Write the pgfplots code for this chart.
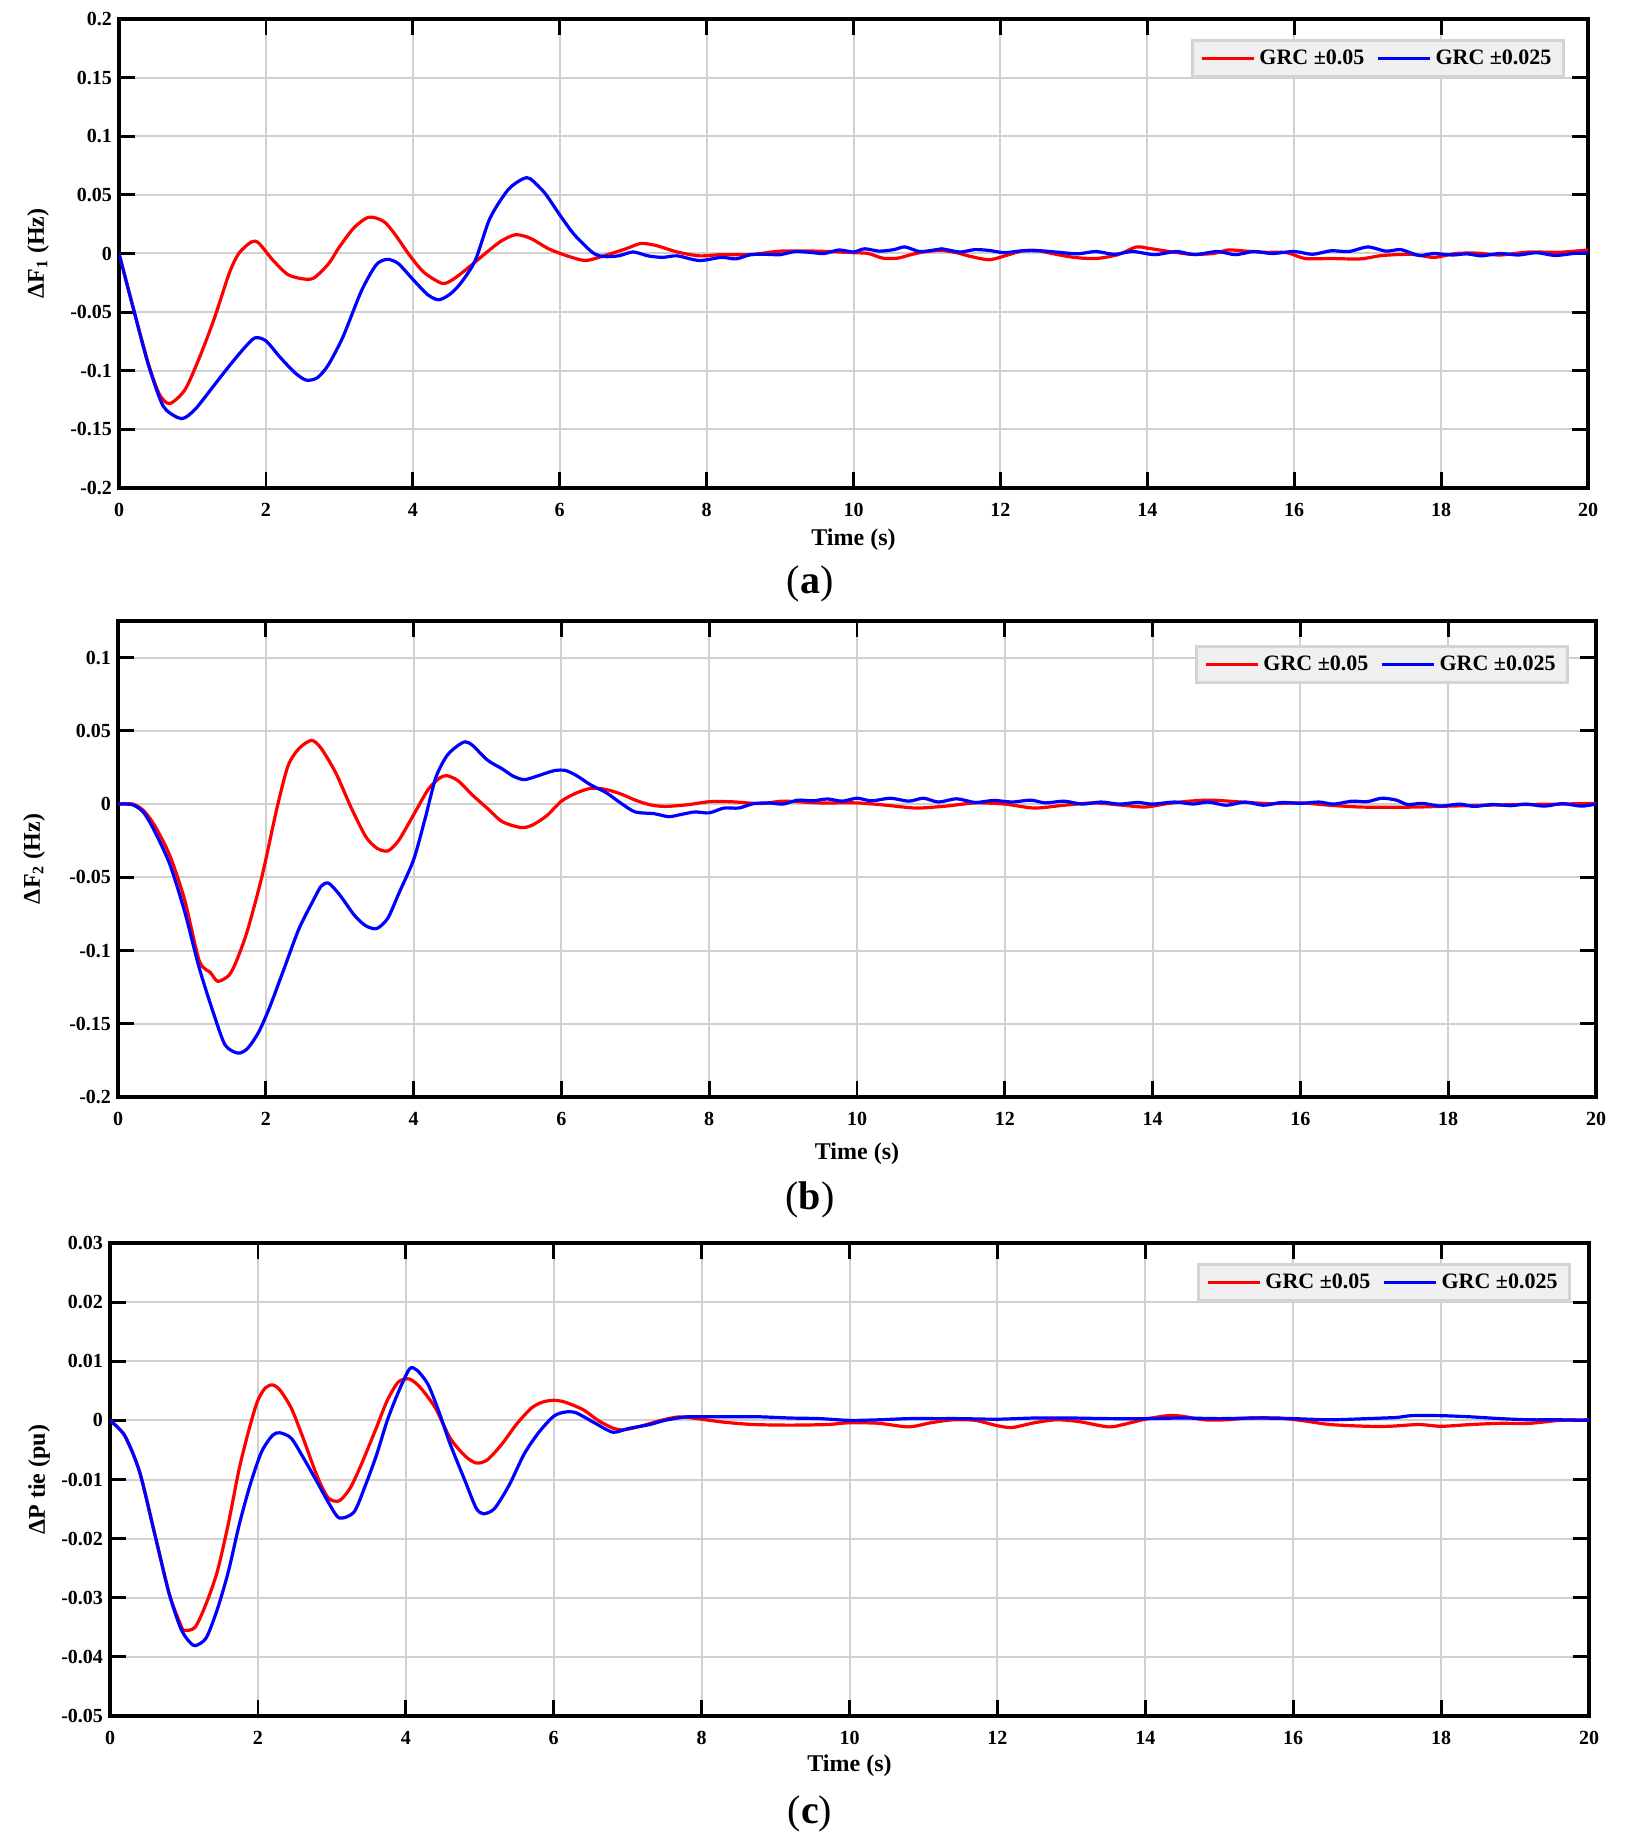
\documentclass[border=0pt]{standalone}
\usepackage{fontspec}
\setmainfont{Liberation Serif}
\usepackage{pgfplots}
\pgfplotsset{compat=1.18}
\definecolor{legfill}{RGB}{240,240,240}
\definecolor{legdraw}{RGB}{212,212,212}
\definecolor{gridc}{RGB}{208,208,208}
\pgfplotsset{
 mystyle/.style={
  scale only axis,
  xmin=0,xmax=20, xtick={0,2,...,20},
  tick align=inside, tick pos=both,
  major tick length=8pt,
  every tick/.style={black, line width=1.4pt},
  axis line style={line width=1.8pt},
  grid=major, grid style={gridc, line width=1pt},
  scaled ticks=false,
  /pgf/number format/assume math mode=true,
  /pgf/number format/fixed, /pgf/number format/precision=3,
  tick label style={font=\bfseries\fontsize{10}{12}\selectfont},
  xticklabel style={yshift=-4pt},
  label style={font=\bfseries\fontsize{12}{14}\selectfont},
  xlabel={Time (s)},
  xlabel style={at={(axis description cs:0.5,0)}, anchor=center},
  ylabel style={at={(axis description cs:0,0.5)}, anchor=center},
  legend columns=2,
  legend style={fill=legfill, draw=legdraw, line width=1.5pt, anchor=north east,
    font=\bfseries\fontsize{11}{13}\selectfont, inner xsep=4pt, inner ysep=2.5pt,
    /tikz/every even column/.append style={column sep=4pt}},
  legend image code/.code={\draw[#1] (0pt,0pt) -- (26pt,0pt);},
  every axis plot/.append style={line width=1.6pt, smooth, tension=0.45},
 }
}
\newcommand{\subcap}[1]{\fontsize{20}{22}\selectfont(\textbf{#1})}
\begin{document}
\begin{tikzpicture}
\path[use as bounding box] (0,0) rectangle (812.5pt,-922.5pt);
% ---------------- (a)
\begin{axis}[mystyle, at={(59.5pt,-9.5pt)}, anchor=north west, width=734.5pt, height=234.5pt,
  ymin=-0.2, ymax=0.2, ytick={-0.2,-0.15,-0.1,-0.05,0,0.05,0.1,0.15,0.2},
  ylabel={ΔF\textsubscript{1} (Hz)},
  xlabel style={yshift=-26pt}, ylabel style={yshift=40.5pt},
  legend style={at={(1,1)}, xshift=-11.5pt, yshift=-10pt}]
\addplot[red] coordinates {(0,0)(0.2,-0.048)(0.4,-0.094)(0.55,-0.12)(0.69,-0.128)(0.9,-0.116)(1.1,-0.088)(1.3,-0.055)(1.5,-0.017)(1.63,0)(1.8,0.0098)(1.9,0.009)(2.1,-0.006)(2.3,-0.018)(2.5,-0.0216)(2.65,-0.021)(2.85,-0.009)(3.0,0.0055)(3.2,0.022)(3.4,0.031)(3.6,0.0275)(3.75,0.017)(3.95,-0.001)(4.15,-0.016)(4.4,-0.0255)(4.55,-0.022)(4.75,-0.0124)(5.0,0.0007)(5.2,0.0105)(5.4,0.016)(5.6,0.013)(5.85,0.004)(6.1,-0.002)(6.35,-0.006)(6.6,-0.002)(6.9,0.004)(7.1,0.0085)(7.3,0.007)(7.6,0.0013)(7.9,-0.002)(8.2,-0.001)(8.6,-0.001)(9.0,0.002)(9.5,0.002)(10,0.0007)(10.2,0)(10.4,-0.004)(10.6,-0.004)(10.8,-0.0007)(11.0,0.0017)(11.2,0.0026)(11.4,0.0007)(11.6,-0.0026)(11.85,-0.0053)(12.1,-0.0013)(12.3,0.0023)(12.5,0.0026)(12.7,0)(13.0,-0.0033)(13.3,-0.0043)(13.6,-0.001)(13.85,0.0056)(14.0,0.0046)(14.3,0.0017)(14.6,-0.0007)(14.9,0)(15.1,0.003)(15.35,0.002)(15.6,0.001)(15.9,0.0007)(16.15,-0.0043)(16.5,-0.0043)(16.9,-0.0046)(17.2,-0.0017)(17.6,-0.0007)(17.9,-0.0033)(18.2,0)(18.5,0.0003)(18.8,-0.0013)(19.2,0.0013)(19.6,0.001)(20,0.003)};
\addlegendentry{GRC ±0.05}
\addplot[blue] coordinates {(0,0)(0.2,-0.048)(0.4,-0.095)(0.6,-0.13)(0.8,-0.14)(0.9,-0.14)(1.05,-0.132)(1.3,-0.112)(1.5,-0.096)(1.7,-0.081)(1.85,-0.072)(2.0,-0.0745)(2.2,-0.089)(2.4,-0.102)(2.55,-0.108)(2.7,-0.106)(2.85,-0.095)(3.05,-0.071)(3.3,-0.032)(3.5,-0.0098)(3.65,-0.005)(3.8,-0.0085)(4.0,-0.022)(4.2,-0.035)(4.35,-0.0395)(4.5,-0.035)(4.65,-0.0255)(4.85,-0.006)(5.05,0.030)(5.3,0.0546)(5.5,0.0637)(5.6,0.0637)(5.8,0.0513)(6.0,0.033)(6.2,0.016)(6.45,0.0007)(6.6,-0.0026)(6.8,-0.002)(7.0,0.0013)(7.2,-0.002)(7.4,-0.0033)(7.6,-0.002)(7.9,-0.006)(8.2,-0.0033)(8.4,-0.0046)(8.6,-0.001)(8.8,-0.0007)(9.0,-0.001)(9.2,0.0016)(9.4,0.001)(9.6,0)(9.8,0.003)(10.0,0.0013)(10.15,0.004)(10.35,0.002)(10.55,0.0033)(10.7,0.0056)(10.9,0.0017)(11.1,0.003)(11.2,0.004)(11.45,0.0013)(11.65,0.0033)(11.85,0.0026)(12.05,0.0007)(12.3,0.0023)(12.55,0.0023)(12.8,0.001)(13.05,-0.0003)(13.3,0.0017)(13.55,-0.0007)(13.8,0.0017)(14.1,-0.001)(14.4,0.0017)(14.65,-0.001)(14.95,0.0017)(15.2,-0.001)(15.45,0.0017)(15.7,0)(16.0,0.0017)(16.25,-0.0007)(16.5,0.0023)(16.75,0.0017)(17.0,0.0056)(17.25,0.002)(17.45,0.0033)(17.7,-0.0017)(17.9,0)(18.15,-0.0013)(18.35,-0.0003)(18.55,-0.002)(18.8,0)(19.05,-0.0013)(19.3,0.0007)(19.55,-0.0017)(19.8,0)(20,0.0007)};
\addlegendentry{GRC ±0.025}
\end{axis}
\node at (405pt,-292pt) {\subcap{a}};
% ---------------- (b)
\begin{axis}[mystyle, at={(59pt,-310.5pt)}, anchor=north west, width=739pt, height=238pt,
  ymin=-0.2, ymax=0.125, ytick={-0.2,-0.15,-0.1,-0.05,0,0.05,0.1},
  ylabel={ΔF\textsubscript{2} (Hz)},
  xlabel style={yshift=-28.5pt}, ylabel style={yshift=42pt},
  legend style={at={(1,1)}, xshift=-13.5pt, yshift=-12pt}]
\addplot[red] coordinates {(0,0)(0.2,0)(0.35,-0.0046)(0.5,-0.015)(0.7,-0.035)(0.9,-0.065)(1.1,-0.107)(1.25,-0.115)(1.35,-0.121)(1.5,-0.117)(1.6,-0.1075)(1.75,-0.0866)(1.95,-0.049)(2.15,-0.003)(2.3,0.026)(2.45,0.038)(2.62,0.0435)(2.75,0.038)(2.95,0.021)(3.15,-0.0019)(3.35,-0.022)(3.5,-0.030)(3.65,-0.032)(3.8,-0.0247)(4.0,-0.0073)(4.2,0.0102)(4.35,0.0177)(4.45,0.0194)(4.6,0.016)(4.8,0.006)(5.0,-0.003)(5.2,-0.012)(5.45,-0.016)(5.6,-0.0145)(5.8,-0.008)(6.0,0.002)(6.2,0.0075)(6.4,0.0108)(6.6,0.010)(6.8,0.007)(7.0,0.0027)(7.2,-0.0005)(7.4,-0.0016)(7.7,-0.0005)(8.0,0.0016)(8.3,0.0016)(8.7,0.0003)(9.0,0.002)(9.5,0.0008)(10,0.0008)(10.4,-0.0008)(10.8,-0.0027)(11.2,-0.0014)(11.6,0.0008)(12.0,0)(12.4,-0.0027)(12.8,-0.0008)(13.2,0.0008)(13.6,-0.0008)(13.9,-0.002)(14.2,0.0003)(14.5,0.002)(14.8,0.0027)(15.2,0.0014)(15.6,0.0003)(16.0,0.0008)(16.4,-0.0008)(16.8,-0.002)(17.2,-0.0022)(17.6,-0.002)(18.0,-0.0014)(18.5,-0.0008)(19.0,-0.0003)(19.5,0)(20,0.0005)};
\addlegendentry{GRC ±0.05}
\addplot[blue] coordinates {(0,0)(0.2,-0.0005)(0.35,-0.006)(0.5,-0.019)(0.7,-0.041)(0.9,-0.073)(1.1,-0.112)(1.3,-0.144)(1.45,-0.1645)(1.62,-0.170)(1.75,-0.167)(1.9,-0.156)(2.05,-0.139)(2.25,-0.112)(2.45,-0.085)(2.65,-0.065)(2.75,-0.056)(2.85,-0.054)(3.0,-0.062)(3.2,-0.076)(3.35,-0.083)(3.5,-0.085)(3.65,-0.078)(3.8,-0.061)(4.0,-0.038)(4.15,-0.011)(4.3,0.018)(4.45,0.033)(4.6,0.040)(4.7,0.0425)(4.8,0.040)(5.0,0.030)(5.2,0.024)(5.35,0.019)(5.5,0.0167)(5.7,0.0196)(5.9,0.0228)(6.05,0.023)(6.2,0.0196)(6.4,0.013)(6.6,0.008)(6.8,0.0008)(7.0,-0.0054)(7.25,-0.0065)(7.45,-0.0086)(7.6,-0.0073)(7.8,-0.0054)(8.0,-0.006)(8.2,-0.0027)(8.4,-0.0027)(8.6,0.0003)(8.8,0.0008)(9.0,0)(9.2,0.0027)(9.4,0.0022)(9.6,0.0035)(9.8,0.002)(10.0,0.004)(10.2,0.0022)(10.45,0.004)(10.7,0.002)(10.9,0.004)(11.1,0.0014)(11.35,0.0036)(11.6,0.0011)(11.85,0.0025)(12.1,0.0014)(12.35,0.0027)(12.55,0.0008)(12.8,0.002)(13.05,0)(13.3,0.0014)(13.55,0)(13.8,0.0011)(14.0,0)(14.3,0.0014)(14.55,0)(14.75,0.0014)(15.0,-0.0008)(15.25,0.0014)(15.5,-0.0008)(15.75,0.0011)(16.0,0.0005)(16.25,0.0014)(16.45,0)(16.7,0.002)(16.9,0.0016)(17.1,0.004)(17.3,0.0027)(17.45,-0.0003)(17.65,0.0005)(17.9,-0.0014)(18.15,0)(18.35,-0.0016)(18.6,-0.0003)(18.85,-0.0011)(19.05,0)(19.3,-0.0014)(19.55,0.0003)(19.8,-0.0014)(20,0)};
\addlegendentry{GRC ±0.025}
\end{axis}
\node at (405pt,-600pt) {\subcap{b}};
% ---------------- (c)
\begin{axis}[mystyle, at={(55pt,-621.5pt)}, anchor=north west, width=739.5pt, height=236.5pt,
  ymin=-0.05, ymax=0.03, ytick={-0.05,-0.04,-0.03,-0.02,-0.01,0,0.01,0.02,0.03},
  ylabel={ΔP tie (pu)},
  xlabel style={yshift=-25pt}, ylabel style={yshift=35.5pt},
  legend style={at={(1,1)}, xshift=-9pt, yshift=-10pt}]
\addplot[red] coordinates {(0,0)(0.2,-0.0026)(0.4,-0.0087)(0.6,-0.0189)(0.8,-0.0293)(0.95,-0.0344)(1.0,-0.0355)(1.15,-0.035)(1.3,-0.031)(1.45,-0.0256)(1.6,-0.0175)(1.75,-0.008)(1.9,-0.0006)(2.0,0.0034)(2.1,0.0055)(2.2,0.006)(2.3,0.0051)(2.45,0.0021)(2.6,-0.0026)(2.8,-0.0094)(2.95,-0.0131)(3.1,-0.0136)(3.25,-0.0114)(3.4,-0.0074)(3.6,-0.0013)(3.75,0.0034)(3.9,0.0065)(4.05,0.007)(4.2,0.0055)(4.4,0.0021)(4.6,-0.003)(4.8,-0.006)(4.95,-0.0072)(5.1,-0.0067)(5.3,-0.004)(5.5,-0.0006)(5.7,0.0021)(5.85,0.0031)(6.0,0.0034)(6.15,0.0031)(6.4,0.0018)(6.6,0)(6.8,-0.0013)(6.95,-0.0016)(7.2,-0.0009)(7.45,0)(7.7,0.0006)(8.0,0.0002)(8.3,-0.0003)(8.7,-0.0007)(9.2,-0.0008)(9.7,-0.0007)(10.0,-0.0004)(10.4,-0.0005)(10.8,-0.0011)(11.1,-0.0004)(11.4,0.0001)(11.7,0)(12.0,-0.0009)(12.2,-0.0012)(12.5,-0.0004)(12.8,0.0001)(13.1,-0.0002)(13.5,-0.0011)(13.7,-0.0007)(14.0,0.0002)(14.3,0.0008)(14.5,0.0007)(14.8,0.0001)(15.1,0.0001)(15.4,0.0004)(15.8,0.0004)(16.1,0)(16.5,-0.0007)(17.0,-0.001)(17.3,-0.001)(17.7,-0.0007)(18.0,-0.001)(18.4,-0.0007)(18.8,-0.0005)(19.2,-0.0005)(19.6,0)(20,0.0001)};
\addlegendentry{GRC ±0.05}
\addplot[blue] coordinates {(0,0)(0.2,-0.0026)(0.4,-0.0087)(0.6,-0.019)(0.8,-0.0293)(0.95,-0.035)(1.05,-0.0371)(1.15,-0.0381)(1.3,-0.0368)(1.45,-0.032)(1.6,-0.0256)(1.75,-0.0175)(1.9,-0.0107)(2.05,-0.0053)(2.2,-0.0025)(2.3,-0.0021)(2.45,-0.003)(2.6,-0.006)(2.8,-0.0104)(2.95,-0.0138)(3.1,-0.0165)(3.3,-0.0155)(3.45,-0.0111)(3.6,-0.006)(3.75,0)(3.9,0.0048)(4.05,0.0087)(4.15,0.0085)(4.3,0.0061)(4.45,0.0014)(4.6,-0.004)(4.8,-0.0102)(4.95,-0.0148)(5.05,-0.0158)(5.2,-0.0149)(5.4,-0.0109)(5.6,-0.0057)(5.8,-0.002)(6.0,0.0007)(6.15,0.0014)(6.3,0.0013)(6.55,-0.0004)(6.8,-0.002)(7.0,-0.0014)(7.3,-0.0007)(7.5,0)(7.8,0.0006)(8.1,0.0006)(8.5,0.0006)(8.8,0.0006)(9.2,0.0004)(9.6,0.0003)(10.0,0)(10.4,0.0001)(10.8,0.0003)(11.2,0.0003)(11.5,0.0003)(12.0,0.0002)(12.5,0.0004)(13.0,0.0004)(13.5,0.0003)(14.0,0.0003)(14.5,0.0004)(15.0,0.0003)(15.5,0.0004)(16.0,0.0003)(16.5,0.0001)(17.0,0.0003)(17.4,0.0005)(17.6,0.0008)(18.0,0.0008)(18.4,0.0006)(18.8,0.0003)(19.2,0.0001)(19.6,0.0001)(20,0)};
\addlegendentry{GRC ±0.025}
\end{axis}
\node at (405pt,-907pt) {\subcap{c}};
\end{tikzpicture}
\end{document}
